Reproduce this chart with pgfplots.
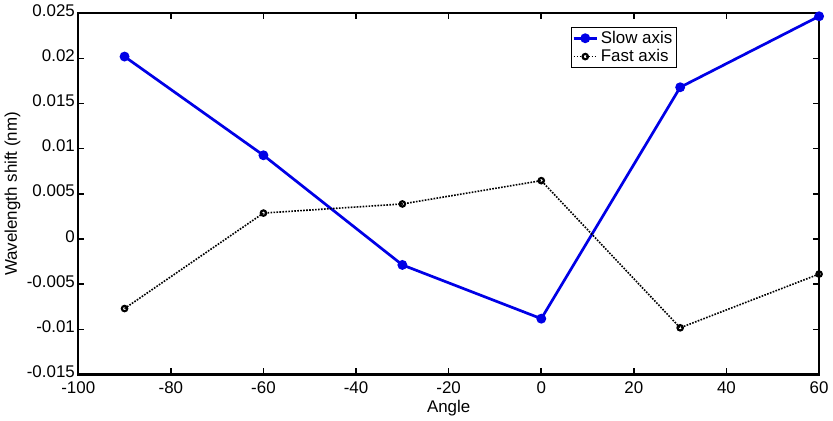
\documentclass[border=0pt]{standalone}
\usepackage{pgfplots}
\pgfplotsset{compat=1.18}
\usepackage{fontspec}
\setmainfont{Liberation Sans}
\begin{document}
\begin{tikzpicture}
\begin{axis}[
  width=547.5pt, height=267pt, scale only axis,
  xmin=-100, xmax=60, ymin=-0.015, ymax=0.025,
  xtick={-100,-80,...,60},
  ytick={-0.015,-0.01,-0.005,0,0.005,0.01,0.015,0.02,0.025},
  yticklabels={-0.015,-0.01,-0.005,0,0.005,0.01,0.015,0.02,0.025},
  scaled y ticks=false,
  /pgf/number format/assume math mode=true,
  tick align=inside,
  tick style={black, line width=1.2pt},
  major tick length=4.5pt,
  axis line style={line width=1.5pt},
  tick label style={font=\fontsize{12.5}{13}\selectfont},
  xticklabel style={yshift=-2pt},
  yticklabel style={xshift=1pt, yshift=2pt},
  label style={font=\fontsize{12.5}{13}\selectfont},
  xlabel={Angle}, ylabel={Wavelength shift (nm)},
  xlabel style={yshift=2pt},
  ylabel style={yshift=-2pt},
  clip=false,
  legend style={at={(0.808,0.963)}, anchor=north east, font=\fontsize{12.5}{13}\selectfont, draw=black, line width=0.7pt, inner sep=1pt, row sep=-1pt},
  legend cell align=left,
]
\addplot[color={rgb,255:red,0;green,0;blue,230}, line width=2pt, mark=*, mark size=2.6pt] coordinates {
(-90,0.0202) (-60,0.00927) (-30,-0.00287) (0,-0.00882) (30,0.0168) (60,0.02466)};
\addlegendentry{Slow axis}
\addplot[black, line width=1.2pt, densely dotted, mark=o, mark size=2pt, mark options={solid, line width=1.6pt}] coordinates {
(-90,-0.0077) (-60,0.00287) (-30,0.00388) (0,0.00646) (30,-0.00983) (60,-0.00388)};
\addlegendentry{Fast axis}
\end{axis}
\end{tikzpicture}
\end{document}
